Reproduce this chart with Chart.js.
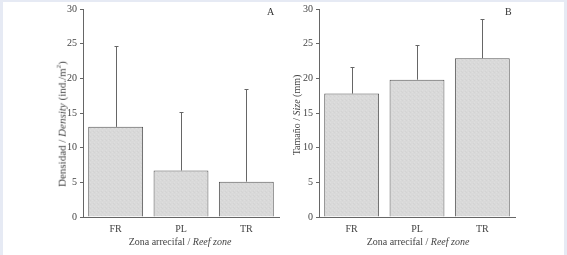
<!doctype html>
<html lang="es">
<head>
<meta charset="utf-8">
<title>Densidad y tamaño por zona arrecifal</title>
<script src="https://cdn.jsdelivr.net/npm/chart.js"></script>
<style>
  body { margin: 0; background: #e6eaf4; width: 567px; height: 255px; overflow: hidden; position: relative; font-family: "Liberation Serif", serif; }
  .frame { position: absolute; left: 3px; top: 2px; width: 561px; height: 253px; background: #fff; }
  canvas { position: absolute; top: 0; }
  .lbl { position: absolute; color: #444; font-size: 10px; white-space: nowrap; }
  .ytitle { transform: translate(-50%, -50%) rotate(-90deg); }
  .xtitle { transform: translateX(-50%); }
  .panel { position: absolute; font-size: 10px; color: #333; }
</style>
</head>
<body>
<div class="frame"></div>
<div style="position:absolute;left:0;top:0;width:290px;height:255px"><canvas id="chartA"></canvas></div>
<div style="position:absolute;left:236px;top:0;width:290px;height:255px"><canvas id="chartB"></canvas></div>

<div class="lbl ytitle" style="left:61px;top:124px;font-size:11px">Densidad / <i>Density</i> (ind./m<sup style="font-size:7px">2</sup>)</div>
<div class="lbl ytitle" style="left:296px;top:115px">Tamaño / <i>Size</i> (mm)</div>
<div class="lbl xtitle" style="left:180px;top:236px">Zona arrecifal / <i>Reef zone</i></div>
<div class="lbl xtitle" style="left:418px;top:236px">Zona arrecifal / <i>Reef zone</i></div>
<div class="panel" style="left:267px;top:6px">A</div>
<div class="panel" style="left:505px;top:6px">B</div>

<script>
  // datos
  const zonas = ['FR', 'PL', 'TR'];
  const densidad = [13.0, 6.7, 5.1];
  const densidadSD = [11.6, 8.4, 13.4];
  const tamano = [17.8, 19.8, 22.9];
  const tamanoSD = [3.9, 5.0, 5.6];
  const yTicks = [0, 5, 10, 15, 20, 25, 30];

  // textura punteada de las barras
  function makePattern() {
    const c = document.createElement('canvas');
    c.width = 4; c.height = 4;
    const g = c.getContext('2d');
    g.fillStyle = '#d9d9d9';
    g.fillRect(0, 0, 4, 4);
    g.fillStyle = '#dedede';
    g.fillRect(0, 0, 1, 1);
    g.fillRect(2, 2, 1, 1);
    g.fillStyle = '#d3d3d3';
    g.fillRect(2, 0, 1, 1);
    g.fillRect(1, 3, 1, 1);
    return g.createPattern(c, 'repeat');
  }

  const errorBars = {
    id: 'errorBars',
    afterDatasetsDraw(chart) {
      const ctx = chart.ctx;
      const sd = chart.options.plugins.errorBars.sd;
      const meta = chart.getDatasetMeta(0);
      const ys = chart.scales.y;
      ctx.save();
      ctx.strokeStyle = '#666';
      ctx.lineWidth = 1;
      meta.data.forEach((bar, i) => {
        const v = chart.data.datasets[0].data[i];
        const x = Math.round(bar.x) + 0.5;
        const top = Math.round(ys.getPixelForValue(v + sd[i])) + 0.5;
        ctx.beginPath();
        ctx.moveTo(x, bar.y);
        ctx.lineTo(x, top);
        ctx.moveTo(x - 2, top);
        ctx.lineTo(x + 2, top);
        ctx.stroke();
      });
      ctx.restore();
    }
  };

  function makeChart(id, values, sd, axisLeft) {
    return new Chart(document.getElementById(id), {
      type: 'bar',
      data: {
        labels: zonas,
        datasets: [{
          data: values,
          backgroundColor: makePattern(),
          borderColor: '#555',
          borderWidth: 1,
          categoryPercentage: 1,
          barPercentage: 0.84
        }]
      },
      options: {
        responsive: true,
        maintainAspectRatio: false,
        animation: false,
        layout: { padding: { top: 7, right: 11, left: 0, bottom: 0 } },
        plugins: { legend: { display: false }, tooltip: { enabled: false }, errorBars: { sd: sd } },
        scales: {
          x: {
            grid: { drawOnChartArea: false, drawTicks: false },
            border: { display: true, color: '#666' },
            ticks: { color: '#444', padding: 6, font: { family: 'Liberation Serif', size: 10 } },
            afterFit: s => { s.height = 38; }
          },
          y: {
            min: 0, max: 30,
            afterBuildTicks: s => { s.ticks = yTicks.map(v => ({ value: v })); },
            grid: { drawOnChartArea: false, drawTicks: true, tickLength: 3, color: '#666' },
            border: { display: true, color: '#666' },
            ticks: { color: '#444', padding: 3, font: { family: 'Liberation Serif', size: 10 } },
            afterFit: s => { s.width = axisLeft; }
          }
        }
      },
      plugins: [errorBars]
    });
  }

  makeChart('chartA', densidad, densidadSD, 83);
  makeChart('chartB', tamano, tamanoSD, 83);
</script>
</body>
</html>
